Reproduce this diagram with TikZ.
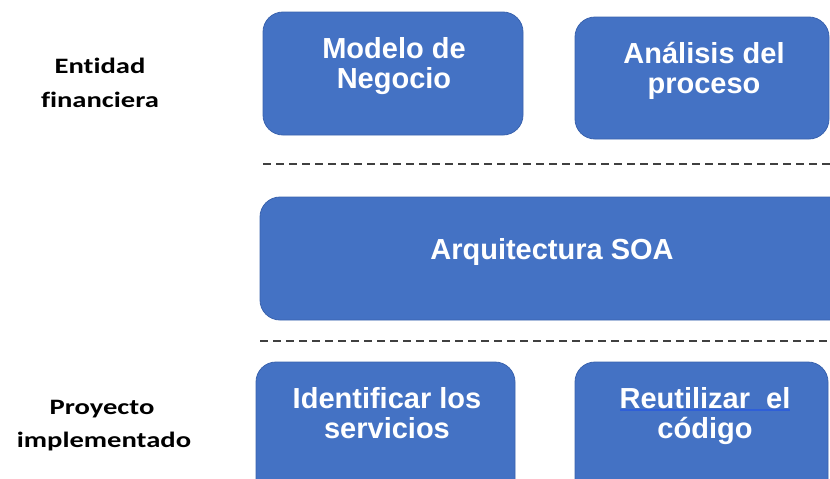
\documentclass[tikz,border=0pt]{standalone}
\usepackage{fontspec}
\setmainfont{Liberation Sans}
\newfontfamily\boxfont{Liberation Sans}[BoldFont={* Bold}]
\newfontfamily\labfont{Carlito}[BoldFont={* Bold},FakeStretch=1.3,Ligatures=NoCommon]
\definecolor{boxblue}{HTML}{4472C4}
\definecolor{boxedge}{HTML}{3A63AE}
\definecolor{dashgray}{HTML}{404040}
\definecolor{ulblue}{HTML}{2F5FD8}
\newcommand\blueul[1]{\setbox0\hbox{#1}\rlap{\color{ulblue}\rule[-3pt]{\wd0}{1.6pt}}\box0}
\begin{document}
\begin{tikzpicture}[x=1pt,y=-1pt,
  bluebox/.style={draw=boxedge,line width=0.8pt,fill=boxblue,rounded corners=20pt},
  boxtxt/.style={anchor=base,inner sep=0pt,text=white,font=\boxfont\bfseries\fontsize{29}{31}\selectfont},
  labtxt/.style={anchor=base,inner sep=0pt,text=black,font=\labfont\bfseries\fontsize{22}{26}\selectfont},
  sepline/.style={draw=dashgray,line width=1.8pt,dash pattern=on 8pt off 5pt}]
\useasboundingbox (0,0) rectangle (830,479);
% boxes
\path[bluebox] (263,12) rectangle (523,135);
\path[bluebox] (575,17) rectangle (829,139);
\path[bluebox] (260,197) rectangle (850,320);
\path[bluebox] (256,362) rectangle (515,500);
\path[bluebox] (575,362) rectangle (828,500);
% separators
\coordinate (s1a) at (263,164); \coordinate (s1b) at (830,164);
\coordinate (s2a) at (260,341); \coordinate (s2b) at (830,341);
\draw[sepline] (s1a) -- (s1b);
\draw[sepline] (s2a) -- (s2b);
% box texts
\node[boxtxt] (m1) at (394,58) {Modelo de};
\node[boxtxt] (m2) at (394,88) {Negocio};
\node[boxtxt] (a1) at (704,63) {Análisis del};
\node[boxtxt] (a2) at (704,93) {proceso};
\node[boxtxt] (soa) at (552,259) {Arquitectura SOA};
\node[boxtxt] (i1) at (387,408) {Identificar los};
\node[boxtxt] (i2) at (387,438) {servicios};
\node[boxtxt] (r1) at (705,408) {\blueul{Reutilizar\ \ el}};
\node[boxtxt] (r2) at (705,438) {código};
% side labels
\node[labtxt] (e1) at (100,73) {Entidad};
\node[labtxt] (e2) at (100,107) {financiera};
\node[labtxt] (p1) at (102,414) {Proyecto};
\node[labtxt] (p2) at (104,447) {implementado};
\end{tikzpicture}
\end{document}
